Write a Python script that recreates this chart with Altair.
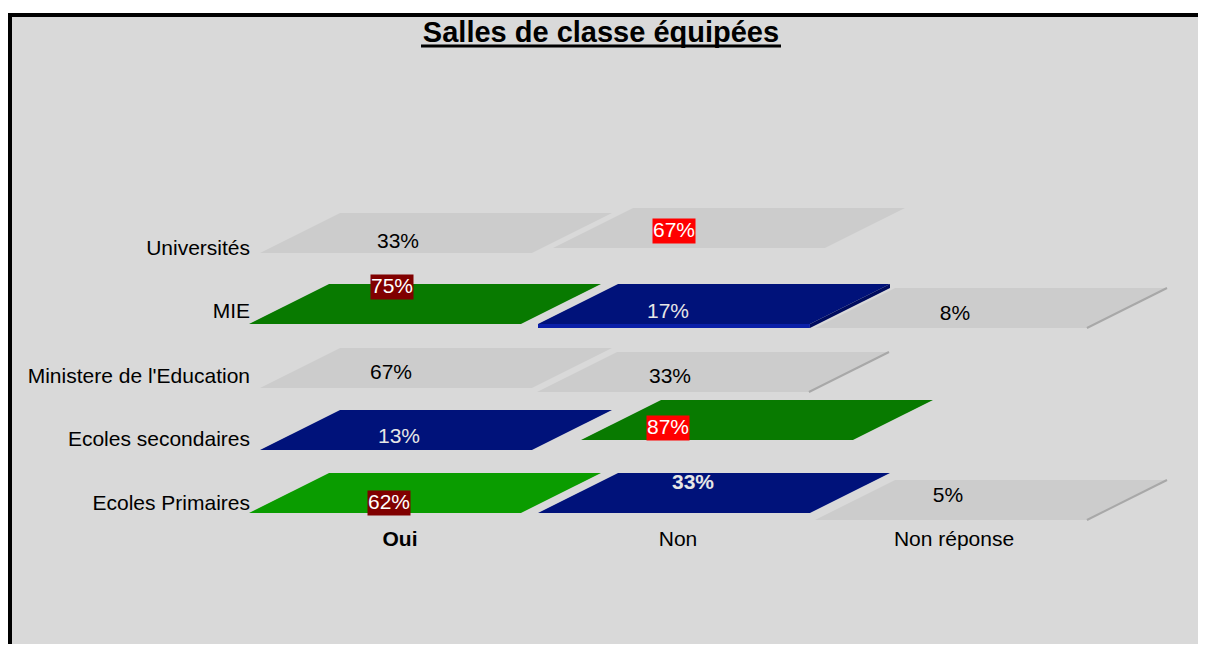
import altair as alt
import pandas as pd

# ---- data ----
rows = ["Universités", "MIE", "Ministere de l'Education", "Ecoles secondaires", "Ecoles Primaires"]
cols = ["Oui", "Non", "Non réponse"]
universites = [33, 67, None]
mie = [75, 17, 8]
ministere = [67, 33, None]
secondaires = [13, 87, None]
primaires = [62, 33, 5]
series = [universites, mie, ministere, secondaires, primaires]
title_text = "Salles de classe équipées"

# ---- styles ----
GRAY = "#cccccc"
GREEN = "#087a00"
GREEN2 = "#0a9c00"
NAVY = "#00127a"
fills = {
    ("Universités", "Oui"): GRAY, ("Universités", "Non"): GRAY,
    ("MIE", "Oui"): GREEN, ("MIE", "Non"): NAVY, ("MIE", "Non réponse"): GRAY,
    ("Ministere de l'Education", "Oui"): GRAY, ("Ministere de l'Education", "Non"): GRAY,
    ("Ecoles secondaires", "Oui"): NAVY, ("Ecoles secondaires", "Non"): GREEN,
    ("Ecoles Primaires", "Oui"): GREEN2, ("Ecoles Primaires", "Non"): NAVY,
    ("Ecoles Primaires", "Non réponse"): GRAY,
}
label_bg = {
    ("MIE", "Oui"): "#800000", ("Ecoles Primaires", "Oui"): "#800000",
    ("Universités", "Non"): "#ff0000", ("Ecoles secondaires", "Non"): "#ff0000",
}
bold_labels = {("Ecoles Primaires", "Non")}
edges = {("MIE", "Non réponse"), ("Ministere de l'Education", "Non"), ("Ecoles Primaires", "Non réponse")}
thick = {("MIE", "Non")}
# pixel nudges of the 3-D perspective (cell shift, label shift)
cell_shift = {
    ("Universités", "Oui"): (11, 0), ("Universités", "Non"): (16, -5),
    ("MIE", "Non"): (1, 0), ("MIE", "Non réponse"): (0, 4),
    ("Ministere de l'Education", "Oui"): (11, 0), ("Ministere de l'Education", "Non"): (0, 4),
    ("Ecoles secondaires", "Oui"): (11, 0), ("Ecoles secondaires", "Non"): (44, -10),
    ("Ecoles Primaires", "Non"): (1, 0), ("Ecoles Primaires", "Non réponse"): (0, 7),
}
label_shift = {
    ("Universités", "Oui"): (-27, 9), ("Universités", "Non"): (-39, -2),
    ("MIE", "Oui"): (-33, -17), ("MIE", "Non"): (-45, 8), ("MIE", "Non réponse"): (-36, 10),
    ("Ministere de l'Education", "Oui"): (-34, 5), ("Ministere de l'Education", "Non"): (-43, 9),
    ("Ecoles secondaires", "Oui"): (-26, 7), ("Ecoles secondaires", "Non"): (-45, -2),
    ("Ecoles Primaires", "Oui"): (-36, 10), ("Ecoles Primaires", "Non"): (-20, -10),
    ("Ecoles Primaires", "Non réponse"): (-43, 3),
}

recs = []
for ri, (r, vals) in enumerate(zip(rows, series)):
    for ci, (c, v) in enumerate(zip(cols, vals)):
        if v is None:
            continue
        f = fills[(r, c)]
        bg = label_bg.get((r, c), "")
        tc = "#ffffff" if bg else ("#e6e6e6" if f == NAVY else "#000000")
        cdx, cdy = cell_shift.get((r, c), (0, 0))
        ldx, ldy = label_shift[(r, c)]
        recs.append(dict(row=r, col=c, ri=ri, ci=ci, value=v, label=f"{v}%",
                         fill=f, bg=bg, tcolor=tc, bold=(r, c) in bold_labels,
                         edge=(r, c) in edges, thick=(r, c) in thick,
                         cdx=cdx, cdy=cdy, ldx=ldx, ldy=ldy))
df = pd.DataFrame(recs)
df_rows = pd.DataFrame({"row": rows, "ri": list(range(len(rows)))})
df_cols = pd.DataFrame({"col": cols, "ci": list(range(len(cols)))})

FONT = "Liberation Sans"
xscale = alt.Scale(domain=[0, 1, 2], range=[415, 703, 981])
yscale = alt.Scale(domain=[0, 1, 2, 3, 4], range=[218, 289, 353, 415, 478])
X = alt.X("ci:Q", scale=xscale, axis=None)
Y = alt.Y("ri:Q", scale=yscale, axis=None)
CXO = alt.expr("datum.cdx")
CYO = alt.expr("datum.cdy")
LXO = alt.expr("datum.ldx")
LYO = alt.expr("datum.ldy")

PARA = "M -1 0.1136 L -0.545 -0.1136 L 1 -0.1136 L 0.545 0.1136 Z"
EDGE = "M 0.545 0.1136 L 1 -0.1136"
BOTTOM = "M -1 0.1136 L 0.545 0.1136 L 0.545 0.136 L -1 0.136 Z"
SIDE = "M 0.545 0.1136 L 1 -0.1136 L 1 -0.091 L 0.545 0.136 Z"
RECT = "M -1 -0.58 L 1 -0.58 L 1 0.58 L -1 0.58 Z"
PSIZE = 352 * 352

base = alt.Chart(df)

cells = base.mark_point(shape=PARA, size=PSIZE, filled=True, opacity=1, strokeWidth=0,
                        xOffset=CXO, yOffset=CYO).encode(
    x=X, y=Y, fill=alt.Fill("fill:N", scale=None))

edge_lines = base.transform_filter("datum.edge").mark_point(
    shape=EDGE, size=PSIZE, filled=False, opacity=1, stroke="#a8a8a8", strokeWidth=2,
    xOffset=CXO, yOffset=CYO).encode(x=X, y=Y)

thick_bottom = base.transform_filter("datum.thick").mark_point(
    shape=BOTTOM, size=PSIZE, filled=True, opacity=1, strokeWidth=0, color="#0a1fa8",
    xOffset=CXO, yOffset=CYO).encode(x=X, y=Y)
thick_side = base.transform_filter("datum.thick").mark_point(
    shape=SIDE, size=PSIZE, filled=True, opacity=1, strokeWidth=0, color="#000c5e",
    xOffset=CXO, yOffset=CYO).encode(x=X, y=Y)

bgs = base.transform_filter("datum.bg != ''").mark_point(
    shape=RECT, size=43 * 43, filled=True, opacity=1, strokeWidth=0,
    xOffset=LXO, yOffset=LYO).encode(
    x=X, y=Y, fill=alt.Fill("bg:N", scale=None))

labels = base.transform_filter("!datum.bold").mark_text(
    font=FONT, fontSize=21, baseline="middle", dx=LXO, dy=LYO).encode(
    x=X, y=Y, text="label:N", color=alt.Color("tcolor:N", scale=None))

labels_b = base.transform_filter("datum.bold").mark_text(
    font=FONT, fontSize=21, fontWeight="bold", baseline="middle", dx=LXO, dy=LYO).encode(
    x=X, y=Y, text="label:N", color=alt.Color("tcolor:N", scale=None))

row_label_scale = alt.Scale(domain=[0, 1, 2, 3, 4], range=[234, 297, 362, 425, 489])
row_labels = alt.Chart(df_rows).mark_text(
    font=FONT, fontSize=21, align="right", baseline="middle", color="#000000").encode(
    x=alt.value(240), y=alt.Y("ri:Q", scale=row_label_scale, axis=None), text="row:N")

col_label_scale = alt.Scale(domain=[0, 1, 2], range=[390, 668, 944])
col_labels = alt.Chart(df_cols).transform_filter("datum.ci > 0").mark_text(
    font=FONT, fontSize=21, align="center", baseline="middle", color="#000000").encode(
    x=alt.X("ci:Q", scale=col_label_scale, axis=None), y=alt.value(525), text="col:N")

col_labels_b = alt.Chart(df_cols).transform_filter("datum.ci == 0").mark_text(
    font=FONT, fontSize=21, fontWeight="bold", align="center", baseline="middle", color="#000000").encode(
    x=alt.X("ci:Q", scale=col_label_scale, axis=None), y=alt.value(525), text="col:N")

one = pd.DataFrame({"t": [title_text]})
title = alt.Chart(one).mark_text(
    font=FONT, fontSize=29, fontWeight="bold", align="center", baseline="middle", color="#000000").encode(
    x=alt.value(591), y=alt.value(18), text="t:N")
underline = alt.Chart(one).mark_rule(color="#000000", strokeWidth=3).encode(
    x=alt.value(411), x2=alt.value(771), y=alt.value(31))

border_top = alt.Chart(one).mark_rule(color="#000000", strokeWidth=4).encode(
    x=alt.value(-2), x2=alt.value(1190), y=alt.value(0))
border_left = alt.Chart(one).mark_rule(color="#000000", strokeWidth=4).encode(
    x=alt.value(0), y=alt.value(-2), y2=alt.value(640))

chart = alt.layer(
    cells, edge_lines, thick_bottom, thick_side, bgs, labels, labels_b,
    row_labels, col_labels, col_labels_b, title, underline, border_top, border_left
).resolve_scale(
    x="independent", y="independent"
).properties(
    width=1188, height=629, autosize="none",
    padding={"left": 2, "top": 7, "right": 0, "bottom": 0},
    background="#ffffff",
).configure_view(fill="#d9d9d9", stroke="transparent")

chart.save("out.html", embed_options={"renderer": "svg", "actions": False})
